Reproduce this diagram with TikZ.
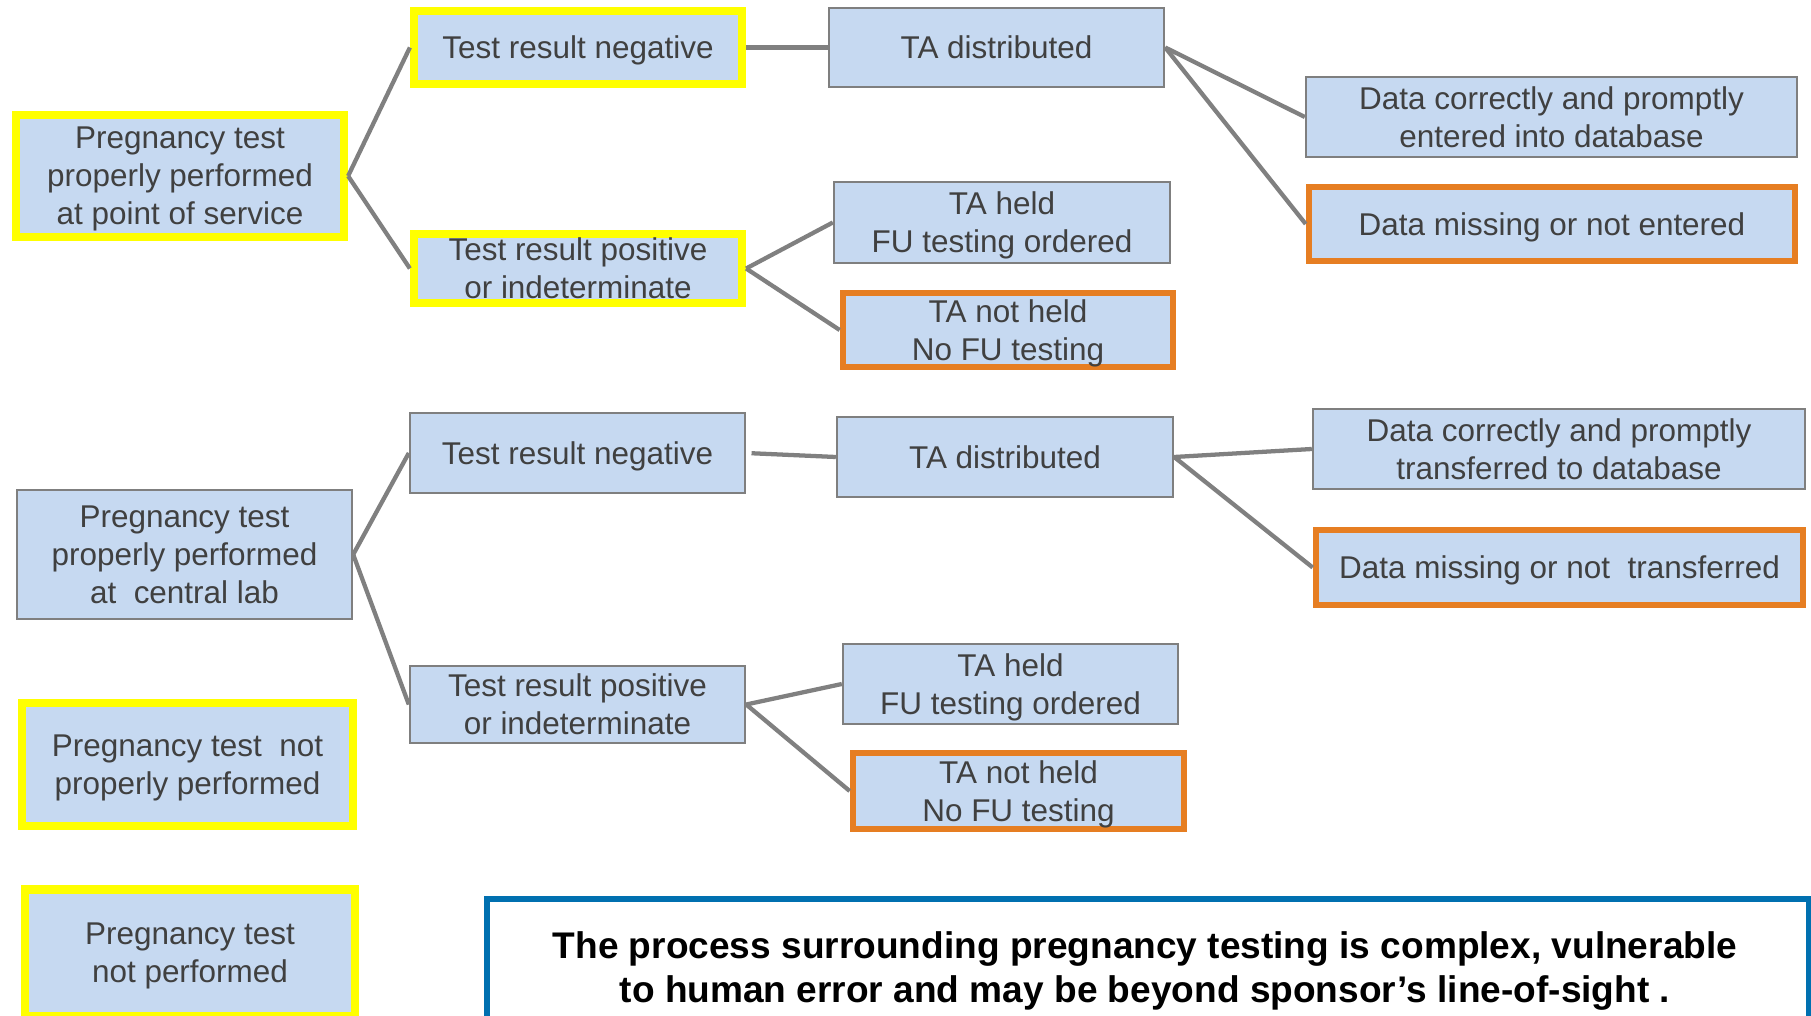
\documentclass[tikz,border=0pt]{standalone}
\usepackage{fontspec}
\setmainfont{Liberation Sans}
\definecolor{boxfill}{HTML}{C6D9F1}
\definecolor{txt}{HTML}{404040}
\definecolor{bordergray}{HTML}{7F7F7F}
\definecolor{conngray}{HTML}{808080}
\definecolor{hlyellow}{HTML}{FFFF00}
\definecolor{hlorange}{HTML}{E67E22}
\definecolor{noteblue}{HTML}{0070B0}
\begin{document}
\begin{tikzpicture}[x=0.75pt,y=-0.75pt,
  base/.style={fill=boxfill, text=txt, align=center, inner sep=0pt, text depth=0pt, font=\fontsize{23.6}{28.4}\selectfont},
  graybox/.style={base, draw=bordergray, line width=1.8pt},
  yelbox/.style={base, draw=hlyellow, line width=6.2pt},
  orabox/.style={base, draw=hlorange, line width=5pt},
  conn/.style={draw=conngray, line width=3.2pt},
  sz/.style 2 args={minimum width=#1*0.75pt, minimum height=#2*0.75pt}]
\clip (0,0) rectangle (1811,1016);
\fill[white] (0,0) rectangle (1811,1016);

% upper tree
\node[yelbox, sz={328}{122}] (pos) at (180,176) {Pregnancy test\\properly performed\\at point of service};
\node[yelbox, sz={328}{73}] (trn1) at (578,47.5) {Test result negative};
\node[yelbox, sz={328}{69}] (trp1) at (578,268.5) {Test result positive\\or indeterminate};
\node[graybox, sz={335}{79}] (tad1) at (996.5,47.5) {TA distributed};
\node[graybox, sz={336}{81}] (tah1) at (1002,222.5) {TA held\\FU testing ordered};
\node[orabox, sz={330}{74}] (tanh1) at (1008,330) {TA not held\\No FU testing};
\node[graybox, sz={491}{80}] (dc1) at (1551.5,117) {Data correctly and promptly\\entered into database};
\node[orabox, sz={486}{74}] (dm1) at (1552,224) {Data missing or not entered};

% lower tree
\node[graybox, sz={335}{129}] (pcl) at (184.5,554.5) {Pregnancy test\\properly performed\\at\ \ central lab};
\node[graybox, sz={335}{80}] (trn2) at (577.5,453) {Test result negative};
\node[graybox, sz={335}{77}] (trp2) at (577.5,704.5) {Test result positive\\or indeterminate};
\node[graybox, sz={336}{80}] (tad2) at (1005,457) {TA distributed};
\node[graybox, sz={492}{80}] (dc2) at (1559,449) {Data correctly and promptly\\transferred to database};
\node[orabox, sz={487}{75}] (dm2) at (1559.5,567.5) {Data missing or not\ \ transferred};
\node[graybox, sz={335}{80}] (tah2) at (1010.5,684) {TA held\\FU testing ordered};
\node[orabox, sz={331}{76}] (tanh2) at (1018.5,791) {TA not held\\No FU testing};

% stand-alone outcomes
\node[yelbox, sz={331}{123}] (npp) at (187.5,764.5) {Pregnancy test\ \ not\\properly performed};
\node[yelbox, sz={330}{127}] (np) at (190,953) {Pregnancy test\\not performed};

% connectors
\draw[conn] (pos.east) -- (trn1.west);
\draw[conn] (pos.east) -- (trp1.west);
\draw[conn] (trn1.east) -- (tad1.west);
\draw[conn] (tad1.east) -- (dc1.west);
\draw[conn] (tad1.east) -- (dm1.west);
\draw[conn] (trp1.east) -- (tah1.west);
\draw[conn] (trp1.east) -- (tanh1.west);
\draw[conn] (pcl.east) -- (trn2.west);
\draw[conn] (pcl.east) -- (trp2.west);
\draw[conn, shorten <=4pt] (trn2.east) -- (tad2.west);
\draw[conn] (tad2.east) -- (dc2.west);
\draw[conn] (tad2.east) -- (dm2.west);
\draw[conn] (trp2.east) -- (tah2.west);
\draw[conn] (trp2.east) -- (tanh2.west);

% note box
\draw[noteblue, line width=4.5pt] (487,899) rectangle (1809,1060);
\node[font=\bfseries\fontsize{27.8}{33.6}\selectfont, text=black, align=center] (note) at (1145,971)
  {The process surrounding pregnancy testing is complex, vulnerable\\to human error and may be beyond sponsor’s line-of-sight .};
\end{tikzpicture}
\end{document}
